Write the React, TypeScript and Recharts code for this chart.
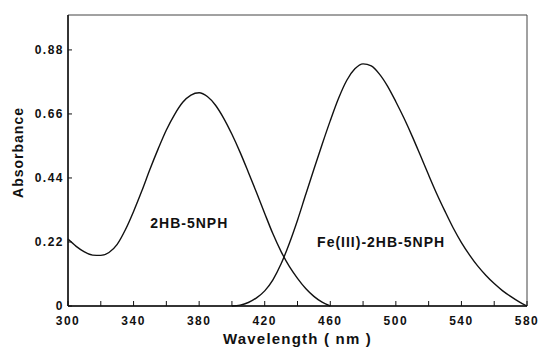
import React from 'react';
import { LineChart, Line, XAxis, YAxis, ReferenceArea, ReferenceDot, Label } from 'recharts';

// Wavelength grid (nm)
const wavelengths = [
  300, 305, 310, 315, 320, 325, 330, 335, 340, 345, 350, 355, 360, 365, 370, 375, 380, 385, 390, 395,
  400, 405, 410, 415, 420, 425, 430, 435, 440, 445, 450, 455, 460, 465, 470, 475, 480, 485, 490, 495,
  500, 505, 510, 515, 520, 525, 530, 535, 540, 545, 550, 555, 560, 565, 570, 575, 580,
];

// 2HB-5NPH absorbance (300..460 nm)
const hb5nph: (number | null)[] = [
  0.23, 0.205, 0.186, 0.175, 0.174, 0.184, 0.212, 0.262, 0.325, 0.395, 0.47, 0.54, 0.605, 0.658, 0.7, 0.725,
  0.733, 0.72, 0.69, 0.645, 0.59, 0.528, 0.46, 0.39, 0.318, 0.248, 0.187, 0.136, 0.095, 0.06, 0.033, 0.013, 0,
  null, null, null, null, null, null, null, null, null, null, null, null, null, null, null, null, null,
  null, null, null, null, null, null, null, null,
];

// Fe(III)-2HB-5NPH absorbance (400..580 nm)
const feHb5nph: (number | null)[] = [
  null, null, null, null, null, null, null, null, null, null, null, null, null, null, null, null, null, null,
  null, null,
  0, 0.003, 0.012, 0.028, 0.052, 0.09, 0.145, 0.215, 0.295, 0.383, 0.47, 0.555, 0.637, 0.713, 0.775, 0.815,
  0.832, 0.825, 0.797, 0.755, 0.702, 0.645, 0.583, 0.517, 0.45, 0.385, 0.325, 0.268, 0.218, 0.175, 0.137,
  0.105, 0.077, 0.053, 0.033, 0.015, 0,
];

const xTicks = [300, 320, 340, 360, 380, 400, 420, 440, 460, 480, 500, 520, 540, 560, 580];
const xLabelTicks = [300, 340, 380, 420, 460, 500, 540, 580];
const yTicks = [0, 0.22, 0.44, 0.66, 0.88];

const seriesNames = { a: '2HB-5NPH', b: 'Fe(III)-2HB-5NPH' };
const xTitle = 'Wavelength ( nm )';
const yTitle = 'Absorbance';

const data = wavelengths.map((w, i) => ({ w, a: hb5nph[i], b: feHb5nph[i] }));

const FONT = '"Liberation Sans", Arial, Helvetica, sans-serif';
const INK = '#111';

const YTitle = (props: any) => {
  const vb = props.viewBox || { x: 0, y: 15, width: 68, height: 291 };
  const cx = vb.x + 23;
  const cy = vb.y + vb.height / 2 - 8;
  return (
    <text
      x={cx}
      y={cy}
      transform={`rotate(-90, ${cx}, ${cy})`}
      textAnchor="middle"
      fontFamily={FONT}
      fontWeight={700}
      fontSize={14}
      letterSpacing={1}
      fill={INK}
    >
      {yTitle}
    </text>
  );
};

export default function App() {
  return (
    <div style={{ position: 'absolute', left: 0, top: 0, width: 539, height: 348, background: '#fff' }}>
      <LineChart width={539} height={348} data={data} margin={{ top: 15, right: 12, left: 0, bottom: 0 }}>
        <ReferenceArea x1={300} x2={580} y1={0} y2={1} fill="none" stroke="#444" strokeWidth={1} />
        <XAxis
          dataKey="w"
          type="number"
          domain={[300, 580]}
          ticks={xTicks}
          interval={0}
          height={42}
          tickSize={-5}
          tickMargin={15}
          tickFormatter={(v: number) => (xLabelTicks.includes(v) ? String(v) : '')}
          axisLine={{ stroke: INK, strokeWidth: 1.5 }}
          tickLine={{ stroke: INK, strokeWidth: 1 }}
          tick={{ fill: INK, fontSize: 12, fontWeight: 700, fontFamily: FONT, letterSpacing: 1.5 }}
        >
          <Label
            value={xTitle}
            position="insideBottom"
            offset={4}
            fill={INK}
            fontSize={15}
            fontWeight={700}
            fontFamily={FONT}
            letterSpacing={1.2}
          />
        </XAxis>
        <YAxis
          type="number"
          domain={[0, 1]}
          ticks={yTicks}
          interval={0}
          width={68}
          tickSize={-4}
          tickMargin={8}
          tickFormatter={(v: number) => (v === 0 ? '0' : v.toFixed(2))}
          axisLine={{ stroke: INK, strokeWidth: 1.5 }}
          tickLine={{ stroke: INK, strokeWidth: 1 }}
          tick={{ fill: INK, fontSize: 12, fontWeight: 700, fontFamily: FONT, letterSpacing: 1.5 }}
        >
          <Label content={<YTitle />} />
        </YAxis>
        <Line
          type="monotone"
          dataKey="a"
          stroke={INK}
          strokeWidth={1.4}
          dot={false}
          isAnimationActive={false}
          connectNulls={false}
        />
        <Line
          type="monotone"
          dataKey="b"
          stroke={INK}
          strokeWidth={1.4}
          dot={false}
          isAnimationActive={false}
          connectNulls={false}
        />
        <ReferenceDot x={374} y={0.285} r={1} fill="none" stroke="none">
          <Label
            value={seriesNames.a}
            position="center"
            fill={INK}
            fontSize={14}
            fontWeight={700}
            fontFamily={FONT}
            letterSpacing={1}
          />
        </ReferenceDot>
        <ReferenceDot x={491} y={0.221} r={1} fill="none" stroke="none">
          <Label
            value={seriesNames.b}
            position="center"
            fill={INK}
            fontSize={14}
            fontWeight={700}
            fontFamily={FONT}
            letterSpacing={1}
          />
        </ReferenceDot>
      </LineChart>
    </div>
  );
}
